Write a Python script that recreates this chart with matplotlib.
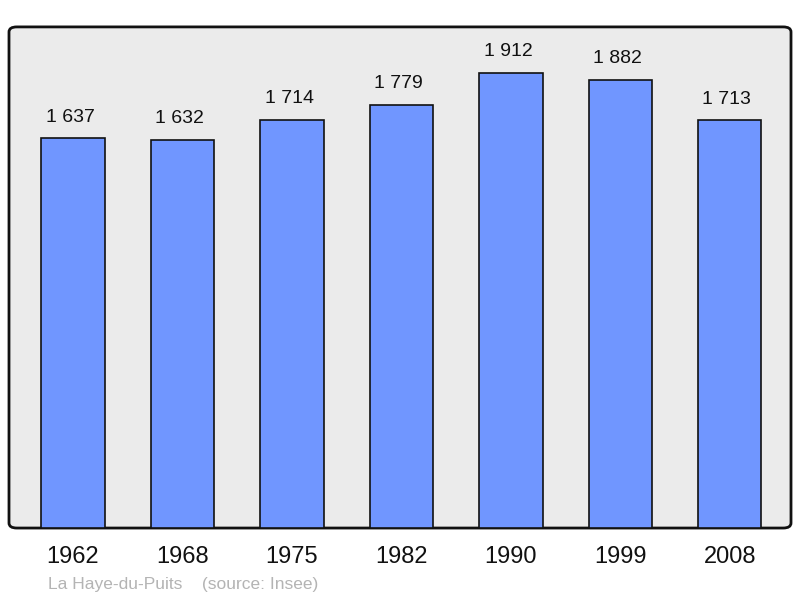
import matplotlib.pyplot as plt
from matplotlib.patches import FancyBboxPatch

years = ["1962", "1968", "1975", "1982", "1990", "1999", "2008"]
population = [1637, 1632, 1714, 1779, 1912, 1882, 1713]
value_labels = ["1 637", "1 632", "1 714", "1 779", "1 912", "1 882", "1 713"]
footer = "La Haye-du-Puits    (source: Insee)"

plt.rcParams["font.family"] = ["Liberation Sans", "DejaVu Sans"]

fig = plt.figure(figsize=(8, 5.98), dpi=100)
ax = fig.add_axes([0.01125, 0.117, 0.9775, 0.838])
ax.set_facecolor("none")

# rounded frame with grey fill
frame = FancyBboxPatch((0, 0), 1, 1, boxstyle="round,pad=0,rounding_size=0.01",
                       transform=ax.transAxes, facecolor="#ebebeb",
                       edgecolor="#111111", linewidth=2, zorder=0, clip_on=False)
ax.add_patch(frame)

xs = range(len(years))
ax.bar(xs, population, width=0.58, color="#7096ff", edgecolor="#111111",
       linewidth=1.2, zorder=2)

for x, v, lab in zip(xs, population, value_labels):
    ax.annotate(lab, (x, v), xytext=(-2, 9), textcoords="offset points",
                ha="center", va="bottom", fontsize=14, color="#111111")

ax.set_xlim(-0.585, 6.56)
ax.set_ylim(0, 2105)
ax.set_xticks(list(xs))
ax.set_xticklabels(years, fontsize=17, color="#111111")
ax.tick_params(axis="x", length=0, pad=13)
ax.set_yticks([])
for s in ax.spines.values():
    s.set_visible(False)

fig.text(48 / 800, 1 - 584 / 598, footer, fontsize=12.5, color="#b4b4b4",
         ha="left", va="center")

fig.savefig("out.png", dpi=100)
